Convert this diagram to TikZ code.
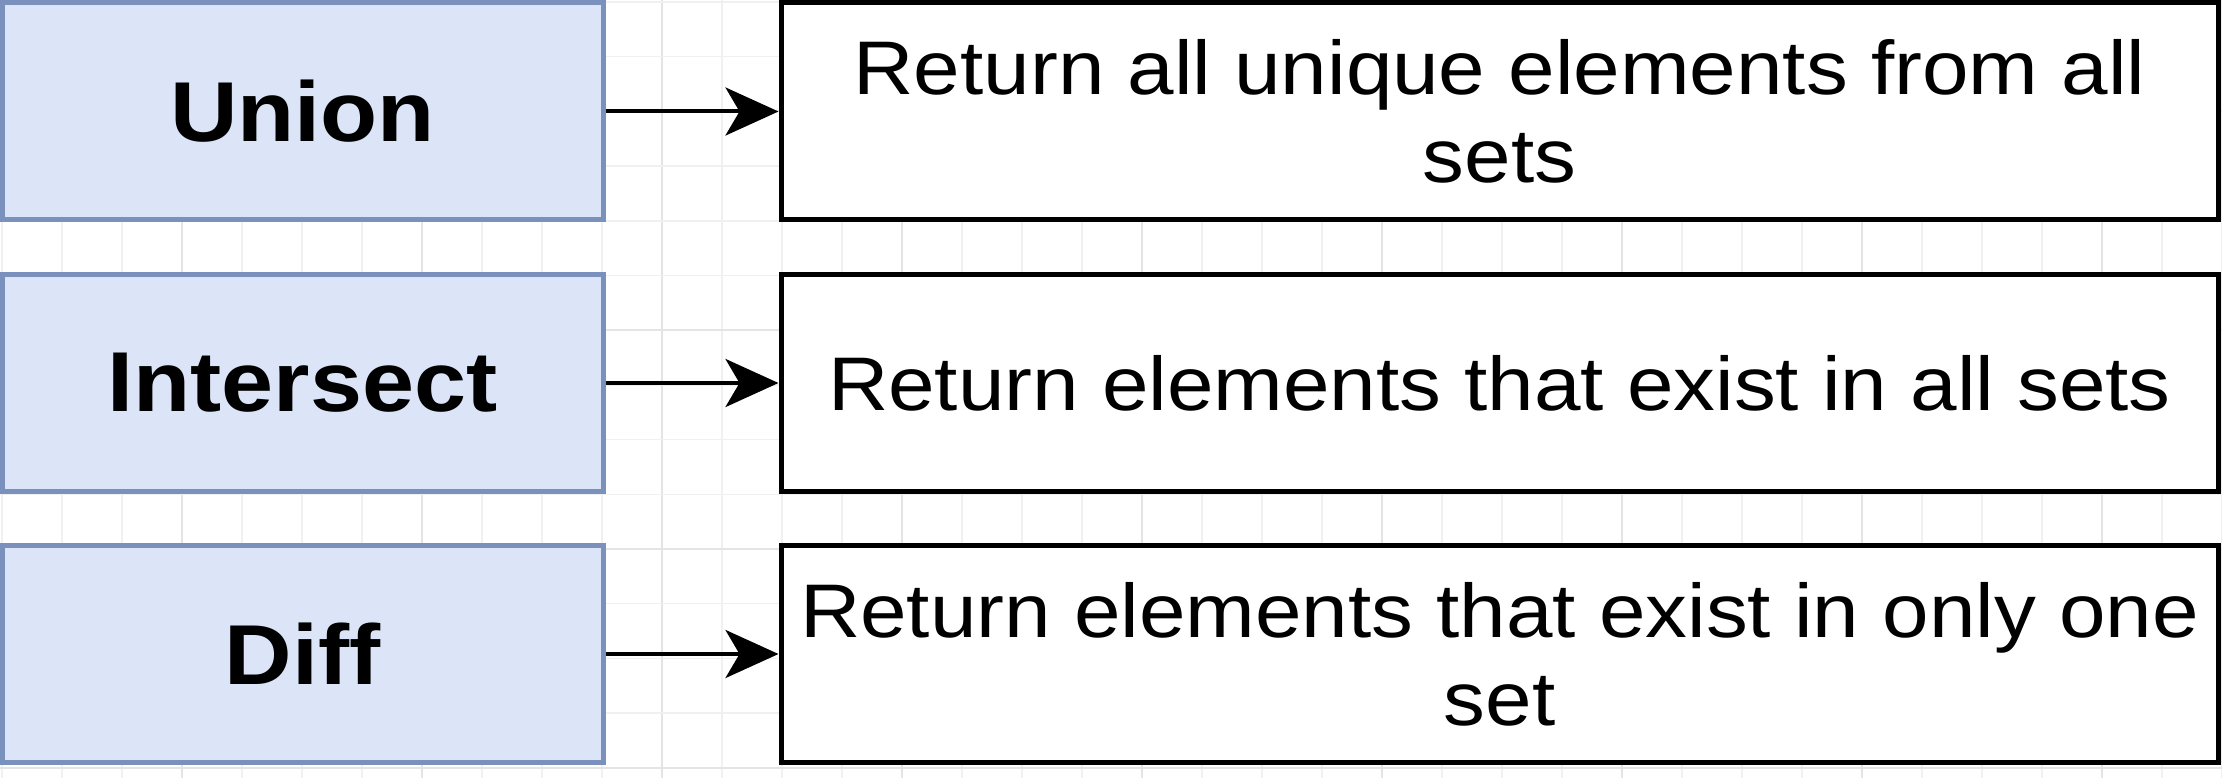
\documentclass[tikz,border=0pt]{standalone}
\usepackage{fontspec}
\setmainfont{Liberation Sans}[FakeStretch=1.1]
\newfontfamily\labelfont{Liberation Sans Bold}[FakeStretch=1.1]
\usetikzlibrary{arrows.meta}

\definecolor{gridminor}{RGB}{240,240,240}
\definecolor{gridmajor}{RGB}{228,228,228}
\definecolor{opfill}{RGB}{219,229,247}
\definecolor{opdraw}{RGB}{122,145,190}

\tikzset{
  minorline/.style={draw=gridminor, line width=1.5pt},
  majorline/.style={draw=gridmajor, line width=2pt},
  setop/.style={draw=opdraw, fill=opfill, line width=5pt,
    minimum width=601pt, minimum height=217pt, inner sep=0pt,
    font=\labelfont\fontsize{85}{90}\selectfont},
  setdesc/.style={draw=black, fill=white, line width=5pt,
    minimum width=1437pt, minimum height=217pt, inner sep=0pt,
    align=center, font=\fontsize{76}{88}\selectfont},
  flow/.style={draw=black, line width=4pt,
    -{Stealth[length=53pt, width=48pt, inset=14pt]}}
}

\begin{document}
\begin{tikzpicture}[x=1pt, y=-1pt]
  \useasboundingbox (0,0) rectangle (2222,778);
  \fill[white] (0,0) rectangle (2222,778);

  % background grid
  \foreach \k in {0,...,37} {
    \pgfmathtruncatemacro{\m}{mod(\k,4)}
    \ifnum\m=3
      \draw[majorline] ({2+60*\k},0) -- ({2+60*\k},778);
    \else
      \draw[minorline] ({2+60*\k},0) -- ({2+60*\k},778);
    \fi
  }
  \foreach \k in {0,...,14} {
    \pgfmathtruncatemacro{\m}{mod(\k,4)}
    \ifnum\m=2
      \draw[majorline] (0,{2+54.7*\k}) -- (2222,{2+54.7*\k});
    \else
      \draw[minorline] (0,{2+54.7*\k}) -- (2222,{2+54.7*\k});
    \fi
  }

  % set operations
  \node[setop] (union) at (302.5,111.5) {Union};
  \node[setop] (inter) at (302.5,383) {Intersect};
  \node[setop] (diff)  at (302.5,654) {Diff};

  % their descriptions
  \node[setdesc] (unionD) at (1499.5,111.5) {Return all unique elements from all\\sets};
  \node[setdesc] (interD) at (1499.5,383) {Return elements that exist in all sets};
  \node[setdesc] (diffD)  at (1499.5,654) {Return elements that exist in only one\\set};

  % connectors
  \draw[flow] (union) -- (unionD);
  \draw[flow] (inter) -- (interD);
  \draw[flow] (diff) -- (diffD);
\end{tikzpicture}
\end{document}
